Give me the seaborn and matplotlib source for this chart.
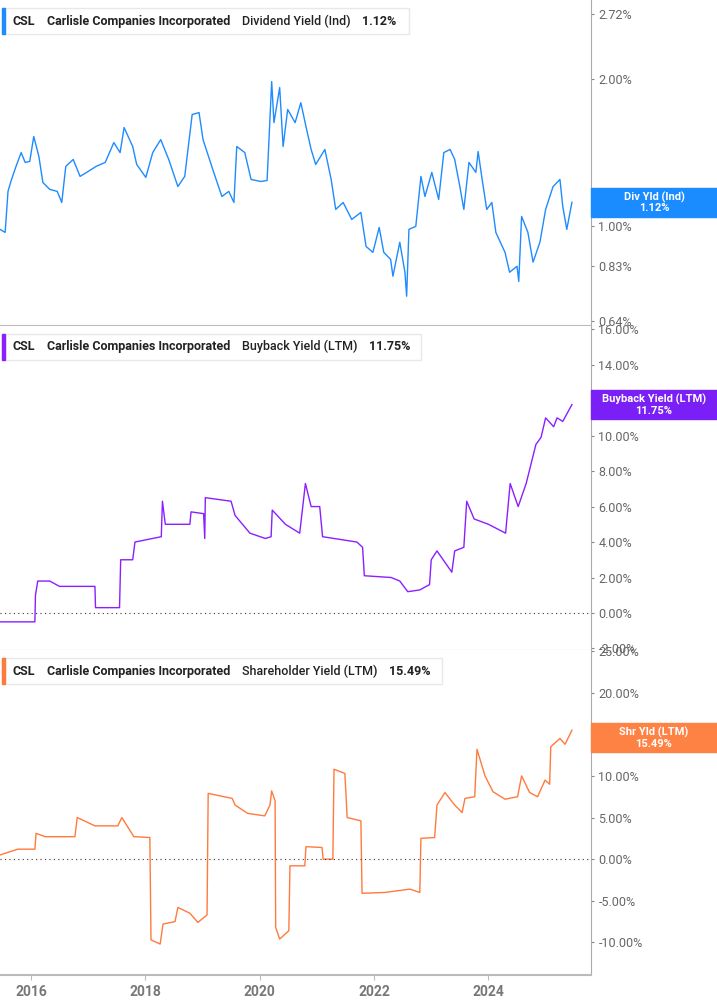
import numpy as np
import pandas as pd
import seaborn as sns
import matplotlib.pyplot as plt
from matplotlib.ticker import FixedLocator, NullLocator

# Dividend yield (%), decimal years
div_years = [2015.46, 2015.55, 2015.60, 2015.65, 2015.74, 2015.83, 2015.90, 2015.98, 2016.05, 2016.14,
             2016.21, 2016.33, 2016.46, 2016.54, 2016.61, 2016.74, 2016.86, 2016.98, 2017.14, 2017.30,
             2017.45, 2017.56, 2017.63, 2017.78, 2017.85, 2018.01, 2018.13, 2018.27, 2018.41, 2018.57,
             2018.69, 2018.82, 2018.94, 2019.01, 2019.18, 2019.34, 2019.46, 2019.55, 2019.60, 2019.74,
             2019.85, 2020.02, 2020.13, 2020.21, 2020.25, 2020.35, 2020.41, 2020.49, 2020.62, 2020.72,
             2020.81, 2020.90, 2020.98, 2021.14, 2021.25, 2021.33, 2021.46, 2021.61, 2021.77, 2021.86,
             2021.98, 2022.09, 2022.17, 2022.29, 2022.33, 2022.45, 2022.54, 2022.57, 2022.61, 2022.73,
             2022.82, 2022.89, 2023.01, 2023.13, 2023.22, 2023.33, 2023.41, 2023.50, 2023.57, 2023.66,
             2023.78, 2023.82, 2023.89, 2023.97, 2024.06, 2024.13, 2024.29, 2024.37, 2024.50, 2024.53,
             2024.58, 2024.69, 2024.78, 2024.90, 2025.00, 2025.13, 2025.25, 2025.30, 2025.37, 2025.46]
div_vals = [0.986, 0.972, 1.179, 1.235, 1.326, 1.415, 1.351, 1.357, 1.526, 1.389,
            1.229, 1.190, 1.179, 1.119, 1.326, 1.370, 1.265, 1.290, 1.326, 1.351,
            1.483, 1.415, 1.592, 1.456, 1.338, 1.259, 1.415, 1.504, 1.370, 1.206,
            1.265, 1.692, 1.708, 1.504, 1.307, 1.151, 1.179, 1.119, 1.456, 1.415,
            1.247, 1.235, 1.241, 1.976, 1.629, 1.921, 1.456, 1.733, 1.629, 1.789,
            1.599, 1.436, 1.338, 1.436, 1.247, 1.083, 1.119, 1.033, 1.068, 0.910,
            0.885, 0.995, 0.885, 0.856, 0.791, 0.928, 0.806, 0.720, 0.986, 1.000,
            1.265, 1.151, 1.289, 1.135, 1.415, 1.436, 1.370, 1.206, 1.083, 1.351,
            1.289, 1.422, 1.247, 1.083, 1.119, 0.972, 0.885, 0.806, 0.829, 0.772,
            1.048, 0.972, 0.845, 0.928, 1.083, 1.206, 1.247, 1.098, 0.986, 1.120]

# Buyback yield (%)
bb_years = [2015.46, 2016.07, 2016.08, 2016.12, 2016.33, 2016.50, 2017.12, 2017.13, 2017.55, 2017.57,
            2017.78, 2017.82, 2018.28, 2018.30, 2018.35, 2018.78, 2018.80, 2019.02, 2019.04, 2019.05,
            2019.50, 2019.57, 2019.83, 2020.10, 2020.20, 2020.22, 2020.45, 2020.70, 2020.80, 2020.90,
            2021.05, 2021.10, 2021.70, 2021.80, 2021.83, 2022.30, 2022.45, 2022.59, 2022.80, 2022.97,
            2023.00, 2023.10, 2023.36, 2023.41, 2023.57, 2023.62, 2023.75, 2024.00, 2024.30, 2024.38,
            2024.52, 2024.66, 2024.83, 2024.92, 2025.00, 2025.14, 2025.20, 2025.30, 2025.46]
bb_vals = [-0.5, -0.5, 1.0, 1.8, 1.8, 1.5, 1.5, 0.3, 0.3, 3.0,
           3.0, 4.0, 4.3, 6.3, 5.0, 5.0, 5.7, 5.6, 4.2, 6.5,
           6.3, 5.5, 4.5, 4.2, 4.3, 5.8, 5.0, 4.5, 7.3, 6.0,
           6.0, 4.3, 4.0, 3.7, 2.1, 2.0, 1.8, 1.2, 1.3, 1.6,
           3.0, 3.5, 2.3, 3.5, 3.7, 6.3, 5.3, 5.0, 4.5, 7.3,
           6.0, 7.3, 9.5, 9.9, 11.0, 10.5, 11.0, 10.8, 11.75]

# Shareholder yield (%)
sh_years = [2015.46, 2015.77, 2016.07, 2016.09, 2016.25, 2016.77, 2016.81, 2017.12, 2017.52, 2017.59,
            2017.80, 2018.08, 2018.10, 2018.26, 2018.31, 2018.52, 2018.57, 2018.78, 2018.92, 2019.08,
            2019.10, 2019.52, 2019.57, 2019.79, 2020.09, 2020.18, 2020.21, 2020.27, 2020.28, 2020.35,
            2020.51, 2020.53, 2020.79, 2020.81, 2021.09, 2021.11, 2021.28, 2021.30, 2021.49, 2021.53,
            2021.77, 2021.79, 2022.19, 2022.63, 2022.80, 2022.82, 2023.06, 2023.10, 2023.24, 2023.41,
            2023.54, 2023.59, 2023.76, 2023.80, 2023.94, 2024.08, 2024.29, 2024.51, 2024.58, 2024.72,
            2024.86, 2024.99, 2025.07, 2025.09, 2025.25, 2025.34, 2025.46]
sh_vals = [0.5, 1.2, 1.2, 3.1, 2.7, 2.7, 5.0, 4.0, 4.0, 5.0,
           2.7, 2.6, -9.7, -10.2, -7.8, -7.5, -5.8, -6.5, -7.6, -6.7,
           7.9, 7.3, 6.5, 5.5, 5.2, 6.5, 8.2, 7.0, -8.2, -9.6,
           -8.6, -0.8, -0.8, 1.5, 1.4, 0.0, 0.0, 10.8, 10.3, 5.0,
           4.6, -4.1, -4.0, -3.6, -4.0, 2.5, 2.6, 6.5, 8.0, 6.5,
           5.6, 7.3, 7.5, 13.2, 10.0, 8.1, 7.2, 7.5, 10.0, 8.0,
           7.5, 9.5, 9.0, 13.5, 14.5, 13.8, 15.49]

year_ticks = [2016, 2018, 2020, 2022, 2024]

panels = [
    dict(x=div_years, y=div_vals, color="#1e8bff", box="#1a8cff", metric="Dividend Yield (Ind)",
         last="1.12%", tag="Div Yld (Ind)", ticks=[0.64, 0.83, 1.00, 2.00, 2.72],
         ylim=(0.63, 2.90), log=True, tag_y=1.12, zero=False, boxw=0.69),
    dict(x=bb_years, y=bb_vals, color="#8a1fff", box="#7a1ff5", metric="Buyback Yield (LTM)",
         last="11.75%", tag="Buyback Yield (LTM)", ticks=[-2, 0, 2, 4, 6, 8, 10, 14, 16],
         ylim=(-2.1, 16.2), log=False, tag_y=11.75, zero=True, boxw=0.71),
    dict(x=sh_years, y=sh_vals, color="#ff7a3d", box="#ff8245", metric="Shareholder Yield (LTM)",
         last="15.49%", tag="Shr Yld (LTM)", ticks=[-10, -5, 0, 5, 10, 15, 20, 25],
         ylim=(-13.9, 25.1), log=False, tag_y=14.6, zero=True, boxw=0.745),
]

plt.rcParams["font.family"] = "Roboto"
fig = plt.figure(figsize=(7.17, 10.05), dpi=100)
bottoms = [0.677, 0.353, 0.030]
for i, (p, b) in enumerate(zip(panels, bottoms)):
    ax = fig.add_axes([0.0, b, 0.824, 0.323])
    df = pd.DataFrame({"year": p["x"], "val": p["y"]})
    sns.lineplot(data=df, x="year", y="val", ax=ax, color=p["color"], linewidth=1.0)
    if p["log"]:
        ax.set_yscale("log")
    ax.set_ylim(*p["ylim"])
    ax.set_xlim(2015.46, 2025.79)
    ax.yaxis.tick_right()
    ax.yaxis.set_major_locator(FixedLocator(p["ticks"]))
    ax.yaxis.set_minor_locator(NullLocator())
    ax.set_yticklabels([f"{t:.2f}%" for t in p["ticks"]])
    ax.tick_params(axis="y", length=2, colors="#888888", labelsize=9, labelcolor="#666666")
    ax.set_xlabel("")
    ax.set_ylabel("")
    for s in ["left", "top"]:
        ax.spines[s].set_visible(False)
    ax.spines["right"].set_color("#aaaaaa")
    ax.spines["bottom"].set_color("#bbbbbb")
    if p["zero"]:
        ax.axhline(0, color="#333333", linestyle=(0, (1, 3)), linewidth=0.8)
    if i < 2:
        ax.set_xticks([])
    else:
        ax.set_xticks(year_ticks)
        ax.set_xticklabels([str(y) for y in year_ticks], fontweight="bold")
        ax.tick_params(axis="x", colors="#bbbbbb", labelcolor="#777777", labelsize=10)
        ax.spines["bottom"].set_linewidth(1.5)
    # legend box
    ax.add_patch(plt.Rectangle((0.003, 0.895), p["boxw"], 0.08, transform=ax.transAxes,
                               fc="white", ec="#e8e8e8", lw=1, zorder=4))
    ax.add_patch(plt.Rectangle((0.003, 0.895), 0.006, 0.08, transform=ax.transAxes,
                               color=p["color"], zorder=5))
    t = ax.text(0.022, 0.935, "CSL", transform=ax.transAxes, fontsize=9, fontweight="bold",
                va="center", ha="left", color="#222222", zorder=6)
    for txt, w, gap in [("Carlisle Companies Incorporated", "bold", 8),
                        (p["metric"], "medium", 9), (p["last"], "bold", 8)]:
        t = ax.annotate(txt, xy=(1, 0.5), xycoords=t, xytext=(gap, 0), textcoords="offset points",
                        va="center", ha="left", fontsize=9, fontweight=w, color="#222222", zorder=6)
    # value tag on right
    ty = ax.transAxes.inverted().transform(ax.transData.transform((2020, p["tag_y"])))[1]
    ax.add_patch(plt.Rectangle((1.0, ty - 0.045), 0.215, 0.09, transform=ax.transAxes,
                               color=p["box"], clip_on=False, zorder=6))
    ax.text(1.107, ty, f"{p['tag']}\n{p['last']}", transform=ax.transAxes, ha="center",
            va="center", color="white", fontsize=8, fontweight="bold", linespacing=1.1,
            clip_on=False, zorder=7)

fig.savefig("out.png", dpi=100)
